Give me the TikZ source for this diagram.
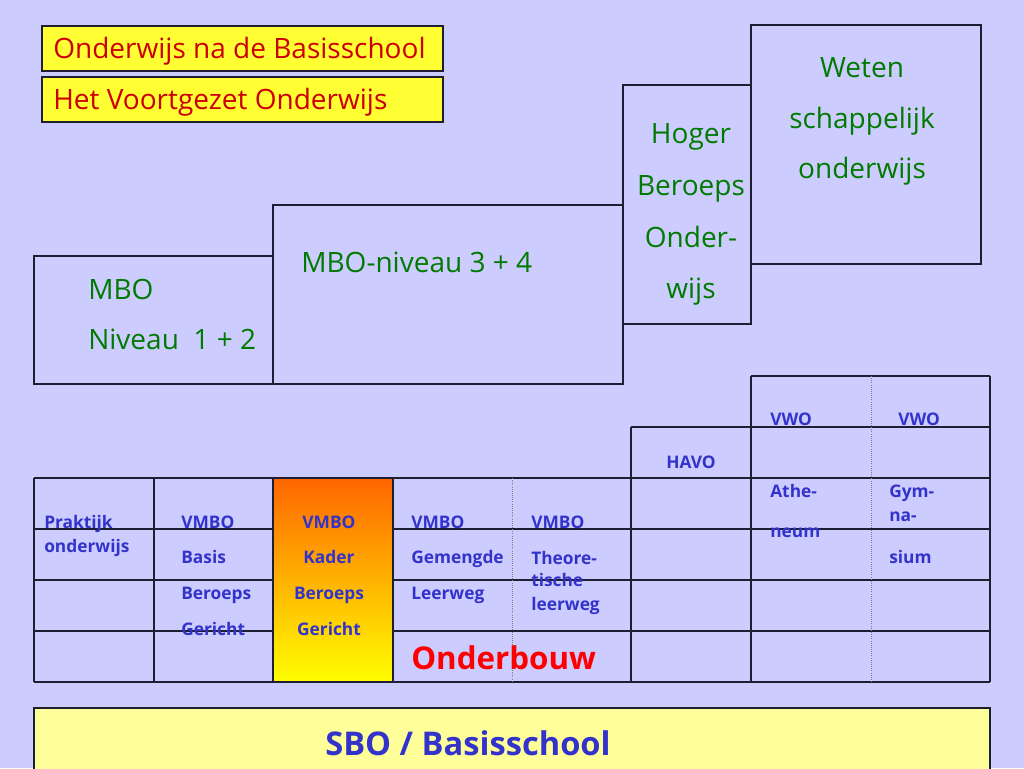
\documentclass[tikz,border=0pt]{standalone}
\usepackage{fontspec}
\setmainfont{Open Sans}
\definecolor{bg}{RGB}{204,204,255}
\definecolor{titleyellow}{RGB}{255,255,51}
\definecolor{titlered}{RGB}{204,0,0}
\definecolor{mygreen}{RGB}{0,122,0}
\definecolor{myblue}{RGB}{51,51,204}
\definecolor{lineclr}{RGB}{30,30,50}
\definecolor{paleyellow}{RGB}{255,255,153}
\definecolor{orangetop}{RGB}{255,102,0}
\begin{document}
\begin{tikzpicture}[x=0.75pt,y=-0.75pt,
  grid/.style={draw=lineclr,line width=0.9pt},
  dotline/.style={draw=gray,line width=0.6pt,densely dotted},
  titletxt/.style={anchor=base west,inner sep=0pt,text=titlered,font=\fontsize{21}{25}\selectfont},
  greentxt/.style={inner sep=0pt,text=mygreen,font=\fontsize{21}{25}\selectfont},
  bluetxt/.style={inner sep=0pt,text=myblue,font=\bfseries\fontsize{13}{15}\selectfont},
  bigred/.style={anchor=base west,inner sep=0pt,text=red,font=\bfseries\fontsize{23.5}{27}\selectfont},
  bigblue/.style={anchor=base west,inner sep=0pt,text=myblue,font=\bfseries\fontsize{24.5}{28}\selectfont}]
\useasboundingbox (0,0) rectangle (1024,768);
\fill[bg] (0,0) rectangle (1024,768);
% title boxes
\filldraw[fill=titleyellow,draw=lineclr,line width=0.9pt] (42,26) rectangle (443,71);
\filldraw[fill=titleyellow,draw=lineclr,line width=0.9pt] (42,77) rectangle (443,122);
\node[titletxt] (t1) at (53,58) {Onderwijs na de Basisschool};
\node[titletxt] (t2) at (53,109) {Het Voortgezet Onderwijs};
% upper boxes
\draw[grid] (34,256) rectangle (273,384);
\draw[grid] (273,205) rectangle (623,384);
\draw[grid] (623,85) rectangle (751,324);
\draw[grid] (751,25) rectangle (981,264);
\node[greentxt,anchor=base west] (mbo1a) at (88,299) {MBO};
\node[greentxt,anchor=base west] (mbo1b) at (88,349) {Niveau\ \ 1 + 2};
\node[greentxt,anchor=base west] (mbo2) at (301,272) {MBO-niveau 3 + 4};
\node[greentxt,anchor=base] (hbo1) at (691,143) {Hoger};
\node[greentxt,anchor=base] (hbo2) at (691,195) {Beroeps};
\node[greentxt,anchor=base] (hbo3) at (691,247) {Onder-};
\node[greentxt,anchor=base] (hbo4) at (691,298) {wijs};
\node[greentxt,anchor=base] (wo1) at (862,77) {Weten};
\node[greentxt,anchor=base] (wo2) at (862,128) {schappelijk};
\node[greentxt,anchor=base] (wo3) at (862,178) {onderwijs};
% table grid
\foreach \yy in {478,529,580,631,682} \draw[grid] (34,\yy) -- (990,\yy);
\draw[grid] (631,427) -- (990,427);
\draw[grid] (751,376) -- (990,376);
\foreach \xx in {34,154,273,393} \draw[grid] (\xx,478) -- (\xx,682);
\draw[grid] (631,427) -- (631,682);
\draw[grid] (751,376) -- (751,682);
\draw[grid] (990,376) -- (990,682);
\draw[dotline] (512,478) -- (512,682);
\draw[dotline] (871,376) -- (871,682);
% orange column
\shade[top color=orangetop,bottom color=yellow] (273,478) rectangle (393,682);
\draw[grid] (273,478) rectangle (393,682);
% table text
\node[bluetxt,anchor=base west] (pr1) at (44,528) {Praktijk};
\node[bluetxt,anchor=base west] (pr2) at (44,552) {onderwijs};
\node[bluetxt,anchor=base west] (b1) at (181,528) {VMBO};
\node[bluetxt,anchor=base west] (b2) at (181,563) {Basis};
\node[bluetxt,anchor=base west] (b3) at (181,599) {Beroeps};
\node[bluetxt,anchor=base west] (b4) at (181,635) {Gericht};
\node[bluetxt,anchor=base] (k1) at (329,528) {VMBO};
\node[bluetxt,anchor=base] (k2) at (329,563) {Kader};
\node[bluetxt,anchor=base] (k3) at (329,599) {Beroeps};
\node[bluetxt,anchor=base] (k4) at (329,635) {Gericht};
\node[bluetxt,anchor=base west] (g1) at (411,528) {VMBO};
\node[bluetxt,anchor=base west] (g2) at (411,563) {Gemengde};
\node[bluetxt,anchor=base west] (g3) at (411,599) {Leerweg};
\node[bluetxt,anchor=base west] (th1) at (531,528) {VMBO};
\node[bluetxt,anchor=base west] (th2) at (531,564) {Theore-};
\node[bluetxt,anchor=base west] (th3) at (531,586) {tische};
\node[bluetxt,anchor=base west] (th4) at (531,610) {leerweg};
\node[bigred] (ob) at (411,669) {Onderbouw};
\node[bluetxt,anchor=base west] (havo) at (666,468) {HAVO};
\node[bluetxt,anchor=base west] (vwo1) at (770,425) {VWO};
\node[bluetxt,anchor=base west] (vwo2) at (898,425) {VWO};
\node[bluetxt,anchor=base west] (at1) at (770,497) {Athe-};
\node[bluetxt,anchor=base west] (at2) at (770,537) {neum};
\node[bluetxt,anchor=base west] (gy1) at (889,497) {Gym-};
\node[bluetxt,anchor=base west] (gy2) at (889,521) {na-};
\node[bluetxt,anchor=base west] (gy3) at (889,563) {sium};
% bottom box
\fill[paleyellow] (34,708) rectangle (990,770);
\draw[grid] (34,770) -- (34,708) -- (990,708) -- (990,770);
\node[bigblue] (sbo) at (325,755) {SBO / Basisschool};
\end{tikzpicture}
\end{document}
